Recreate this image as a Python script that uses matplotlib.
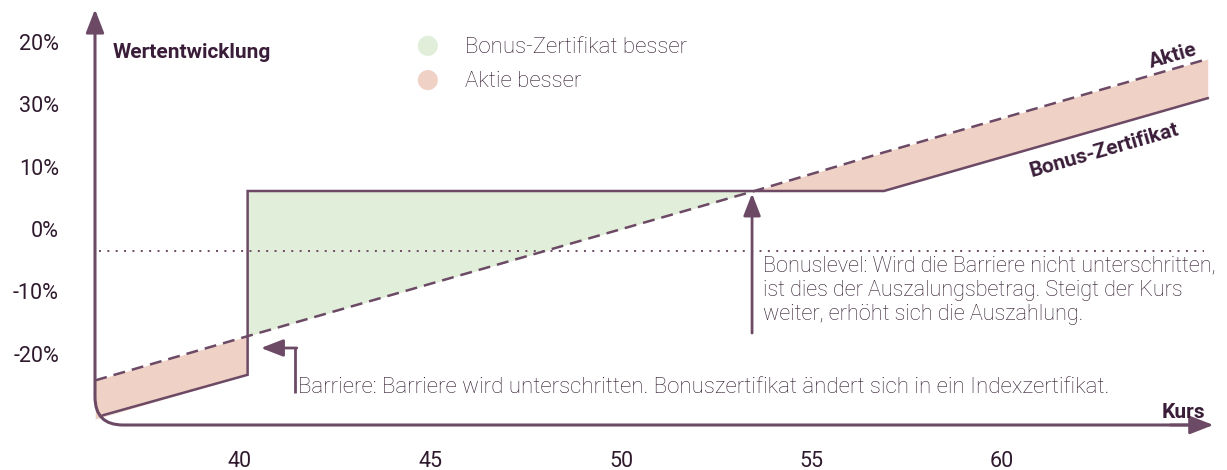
import numpy as np
import matplotlib
matplotlib.use("Agg")
import matplotlib.pyplot as plt
from matplotlib.path import Path
from matplotlib.patches import PathPatch

# Kurs der Aktie und Wertentwicklung in % (Ordinate)
kurs = [36.4, 40.2, 53.5, 56.9, 65.4]
aktie = [-24.0, -17.2, 6.1, 12.3, 27.3]
bonus_unter = [-29.9, -23.4]          # unterhalb der Barriere (kurs[0:2])
bonus_ueber = [6.1, 6.1, 6.1, 21.0]   # ab der Barriere (kurs[1:])
null_linie = -3.5

x_ticks = [40, 45, 50, 55, 60]
y_ticks = [30, 20, 10, 0, -10, -20]
y_labels = ["20%", "30%", "10%", "0%", "-10%", "-20%"]

LINE = "#6c4a65"
DARK = "#3a1d38"
TEXT = "#2f1a2d"
GREEN = "#e1eed9"
PINK = "#efd2c5"

plt.rcParams["font.family"] = ["Roboto", "DejaVu Sans"]

fig = plt.figure(figsize=(12.27, 4.70), dpi=100)
ax = fig.add_axes([95 / 1227, 45 / 470, 1 - 95 / 1227, 1 - 45 / 470])
ax.set_xlim(36.194, 65.906)
ax.set_ylim(-31.46, 36.76)
for s in ax.spines.values():
    s.set_visible(False)

# Flaechen
ax.fill_between([36.2] + kurs[1:2], [-24.3, aktie[1]], [-30.5, bonus_unter[1]], color=PINK, lw=0)
ax.fill_between(kurs[1:3], aktie[1:3], bonus_ueber[0:2], color=GREEN, lw=0)
ax.fill_between(kurs[2:], aktie[2:], bonus_ueber[1:], color=PINK, lw=0)

# Linien
ax.plot([36.2] + kurs[1:], [-24.3] + aktie[1:], color=LINE, lw=1.8, ls=(0, (4.8, 2.8)))
ax.plot(kurs[:2] + kurs[1:], bonus_unter + bonus_ueber, color=LINE, lw=1.8,
        solid_joinstyle="miter")
ax.plot([36.3, kurs[-1] - 0.1], [null_linie, null_linie], color=LINE,
        lw=1.4, ls=(0, (1, 3.3)))

# Achsen mit runder Ecke
rx, ry = 28 / 1132, 28 / 425
verts = [(0, 0.955), (0, ry), (0, 0), (rx, 0), (0.975, 0)]
codes = [Path.MOVETO, Path.LINETO, Path.CURVE3, Path.CURVE3, Path.LINETO]
ax.add_patch(PathPatch(Path(verts, codes), fill=False, ec=LINE, lw=2.2,
                       transform=ax.transAxes, clip_on=False))
arrow = dict(arrowstyle="-|>,head_length=0.9,head_width=0.35", color=LINE, lw=2.0,
             mutation_scale=16, shrinkA=0, shrinkB=0)
ax.annotate("", xy=(0, 0.978), xytext=(0, 0.93), xycoords="axes fraction", arrowprops=arrow)
ax.annotate("", xy=(0.988, 0), xytext=(0.95, 0), xycoords="axes fraction", arrowprops=arrow)

# Ticks
ax.set_xticks(x_ticks)
ax.set_xticklabels([str(t) for t in x_ticks])
ax.set_yticks(y_ticks)
ax.set_yticklabels(y_labels)
ax.tick_params(length=0, labelsize=15.5, labelcolor=TEXT)
ax.tick_params(axis="x", pad=19)
ax.tick_params(axis="y", pad=26)

# Beschriftungen
ax.text(36.66, 28.4, "Wertentwicklung", fontsize=15, fontweight="bold", color=DARK,
        ha="left", va="center")
ax.text(65.33, -29.5, "Kurs", fontsize=15, fontweight="bold", color=DARK,
        ha="right", va="center")
ax.text(64.5, 27.8, "Aktie", fontsize=15, fontweight="bold", color=DARK,
        ha="center", va="center", rotation=16, rotation_mode="anchor")
ax.text(62.7, 12.6, "Bonus-Zertifikat", fontsize=15, fontweight="bold", color=DARK,
        ha="center", va="center", rotation=16, rotation_mode="anchor")

# Legende
ax.scatter([44.93, 44.93], [29.4, 23.9], s=210, c=[GREEN, PINK], lw=0)
ax.text(45.9, 29.2, "Bonus-Zertifikat besser", fontsize=16, color=TEXT, fontweight="light",
        ha="left", va="center")
ax.text(45.9, 23.7, "Aktie besser", fontsize=16, color=TEXT, fontweight="light",
        ha="left", va="center")

# Bonuslevel-Pfeil
head = dict(arrowstyle="-|>,head_length=0.9,head_width=0.35", color=LINE,
            lw=2, mutation_scale=15, shrinkA=0, shrinkB=0)
ax.annotate("", xy=(53.44, 5.7), xytext=(53.44, -16.7), arrowprops=head)
ax.text(53.73, -4.3, "Bonuslevel: Wird die Barriere nicht unterschritten,\n"
        "ist dies der Auszalungsbetrag. Steigt der Kurs\n"
        "weiter, erhöht sich die Auszahlung.", fontsize=15.6, color=TEXT,
        fontweight="light", ha="left", va="top", linespacing=1.18)

# Barriere-Pfeil
ax.plot([41.44, 41.44], [-26.3, -19.1], color=LINE, lw=2, solid_capstyle="butt")
ax.annotate("", xy=(40.55, -19.1), xytext=(41.49, -19.1), arrowprops=head)
ax.text(41.52, -25.4, "Barriere: Barriere wird unterschritten. Bonuszertifikat ändert sich "
        "in ein Indexzertifikat.", fontsize=16, color=TEXT, fontweight="light",
        ha="left", va="center")

fig.savefig("out.png", dpi=100)
